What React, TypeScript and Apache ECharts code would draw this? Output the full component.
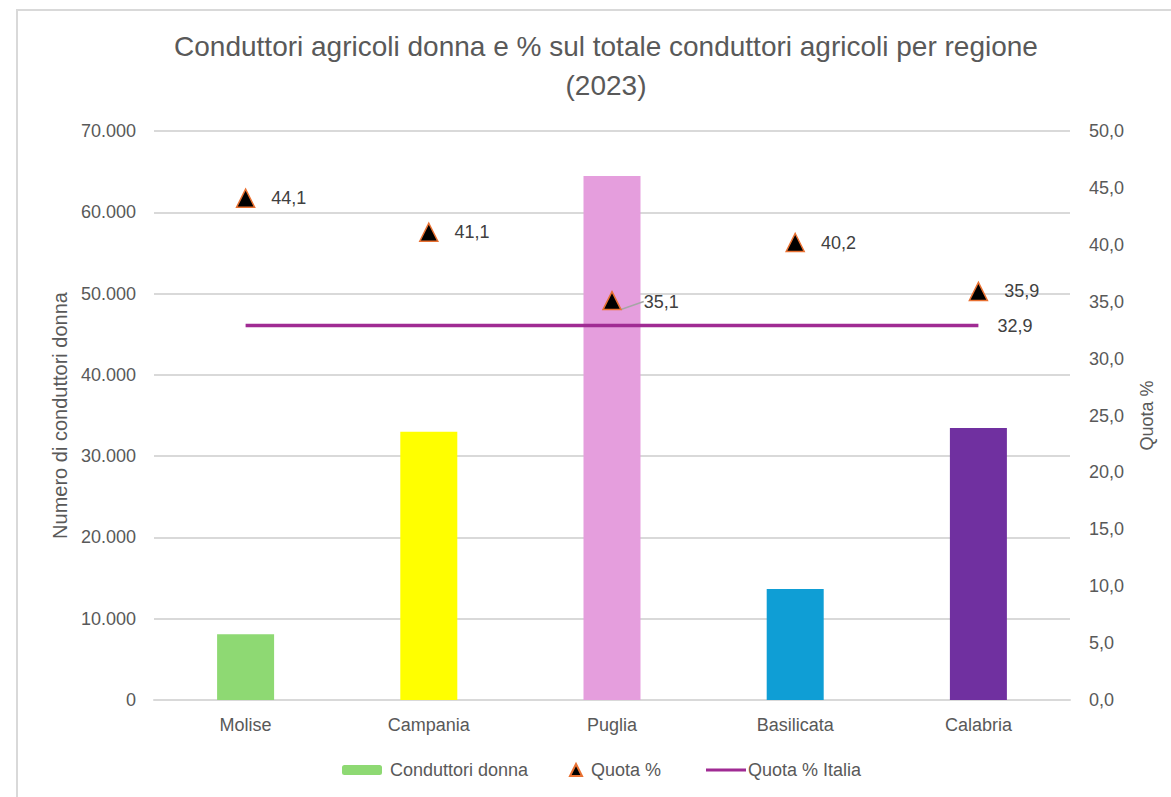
import React, { useEffect, useRef } from "react";
import * as echarts from "echarts";

const categories = ["Molise", "Campania", "Puglia", "Basilicata", "Calabria"];
const conduttoriDonna = [8100, 33000, 64450, 13650, 33450];
const quota = [44.1, 41.1, 35.1, 40.2, 35.9];
const quotaItalia = [32.9, 32.9, 32.9, 32.9, 32.9];
const barColors = ["#8ED973", "#FFFF00", "#E59EDD", "#0F9ED5", "#7030A0"];

const FONT = "Liberation Sans";
const GREY = "#595959";

const fmtThousands = (v: number) =>
  String(Math.round(v)).replace(/\B(?=(\d{3})+(?!\d))/g, ".");
const fmtDec = (v: number) => v.toFixed(1).replace(".", ",");

export default function App() {
  const ref = useRef<HTMLDivElement>(null);
  useEffect(() => {
    if (!ref.current) return;
    const chart = echarts.init(ref.current, undefined, { renderer: "svg" });
    const option: any = {
      animation: false,
      backgroundColor: "#fff",
      textStyle: { fontFamily: FONT },
      title: {
        text: "Conduttori agricoli donna e % sul totale conduttori agricoli per regione\n(2023)",
        left: 601,
        textAlign: "center",
        top: 22,
        textStyle: {
          fontFamily: FONT,
          fontSize: 28,
          fontWeight: "normal",
          color: GREY,
          lineHeight: 39,
        },
      },
      graphic: [
        {
          type: "rect",
          shape: { x: 17, y: 10, width: 1200, height: 850 },
          style: { fill: "none", stroke: "#D9D9D9", lineWidth: 2 },
          z: -1,
        },
      ],
      legend: [
        {
          left: 342,
          top: 761,
          padding: 0,
          itemWidth: 40,
          itemHeight: 10,
          data: ["Conduttori donna"],
          textStyle: { fontFamily: FONT, fontSize: 18, color: GREY, padding: [0, 0, 0, 3] },
        },
        {
          left: 569,
          top: 761,
          padding: 0,
          itemWidth: 12,
          itemHeight: 12,
          data: ["Quota %"],
          textStyle: { fontFamily: FONT, fontSize: 18, color: GREY, padding: [0, 0, 0, 4] },
        },
        {
          left: 706,
          top: 761,
          padding: 0,
          itemWidth: 40,
          itemHeight: 3,
          data: [{ name: "Quota % Italia", icon: "rect" }],
          textStyle: { fontFamily: FONT, fontSize: 18, color: GREY, padding: [0, 0, 0, -3] },
        },
      ],
      grid: { left: 154, right: 101, top: 131, bottom: 97 },
      xAxis: {
        type: "category",
        data: categories,
        axisLine: { show: true, lineStyle: { color: "#D9D9D9", width: 2 } },
        axisTick: { show: false },
        axisLabel: { fontFamily: FONT, fontSize: 18, color: GREY, margin: 16 },
      },
      yAxis: [
        {
          type: "value",
          min: 0,
          max: 70000,
          interval: 10000,
          name: "Numero di conduttori donna",
          nameLocation: "middle",
          nameGap: 84,
          nameTextStyle: { fontFamily: FONT, fontSize: 20, color: GREY },
          axisLine: { show: false },
          axisTick: { show: false },
          splitLine: { lineStyle: { color: "#D9D9D9", width: 2 } },
          axisLabel: {
            fontFamily: FONT,
            fontSize: 18,
            color: GREY,
            margin: 18,
            formatter: (v: number) => fmtThousands(v),
          },
        },
        {
          type: "value",
          min: 0,
          max: 50,
          interval: 5,
          name: "Quota %",
          nameLocation: "middle",
          nameGap: 68,
          nameTextStyle: { fontFamily: FONT, fontSize: 18, color: GREY },
          axisLine: { show: false },
          axisTick: { show: false },
          splitLine: { show: false },
          axisLabel: {
            fontFamily: FONT,
            fontSize: 18,
            color: GREY,
            margin: 19,
            formatter: (v: number) => fmtDec(v),
          },
        },
      ],
      series: [
        {
          name: "Conduttori donna",
          type: "bar",
          barWidth: 57,
          itemStyle: { color: barColors[0] },
          data: conduttoriDonna.map((v, i) => ({
            value: v,
            itemStyle: { color: barColors[i] },
          })),
          z: 1,
        },
        {
          name: "Quota % Italia",
          type: "line",
          yAxisIndex: 1,
          symbol: "circle",
          symbolSize: 0.1,
          showSymbol: true,
          lineStyle: { color: "#A02B93", width: 3.5 },
          itemStyle: { color: "#A02B93" },
          label: { show: false },
          data: quotaItalia.map((v, i) => ({
            value: v,
            label:
              i === quotaItalia.length - 1
                ? {
                    show: true,
                    position: "right",
                    distance: 19,
                    formatter: (p: any) => fmtDec(p.value),
                    fontFamily: FONT,
                    fontSize: 18,
                    color: "#404040",
                  }
                : { show: false },
          })),
          z: 2,
        },
        {
          name: "Quota %",
          type: "scatter",
          yAxisIndex: 1,
          symbol: "triangle",
          symbolSize: 18,
          itemStyle: { color: "#000000", opacity: 1, borderColor: "#E97132", borderWidth: 1.5 },
          label: {
            show: true,
            position: "right",
            distance: 16,
            formatter: (p: any) => fmtDec(p.value),
            fontFamily: FONT,
            fontSize: 18,
            color: "#404040",
          },
          labelLayout: (params: any) => {
            if (params.dataIndex !== 2) return {};
            const r = params.labelRect;
            return {
              x: r.x + 6,
              y: r.y + r.height / 2 + 1,
              align: "left",
              verticalAlign: "middle",
            };
          },
          data: quota.map((v, i) => ({
            value: v,
            labelLine:
              i === 2
                ? { show: true, lineStyle: { color: "#A6A6A6", width: 1.5 } }
                : { show: false },
          })),
          z: 3,
        },
      ],
    };
    chart.setOption(option);
    return () => chart.dispose();
  }, []);
  return (
    <div
      ref={ref}
      style={{ position: "absolute", left: 0, top: 0, width: 1171, height: 797 }}
    />
  );
}
